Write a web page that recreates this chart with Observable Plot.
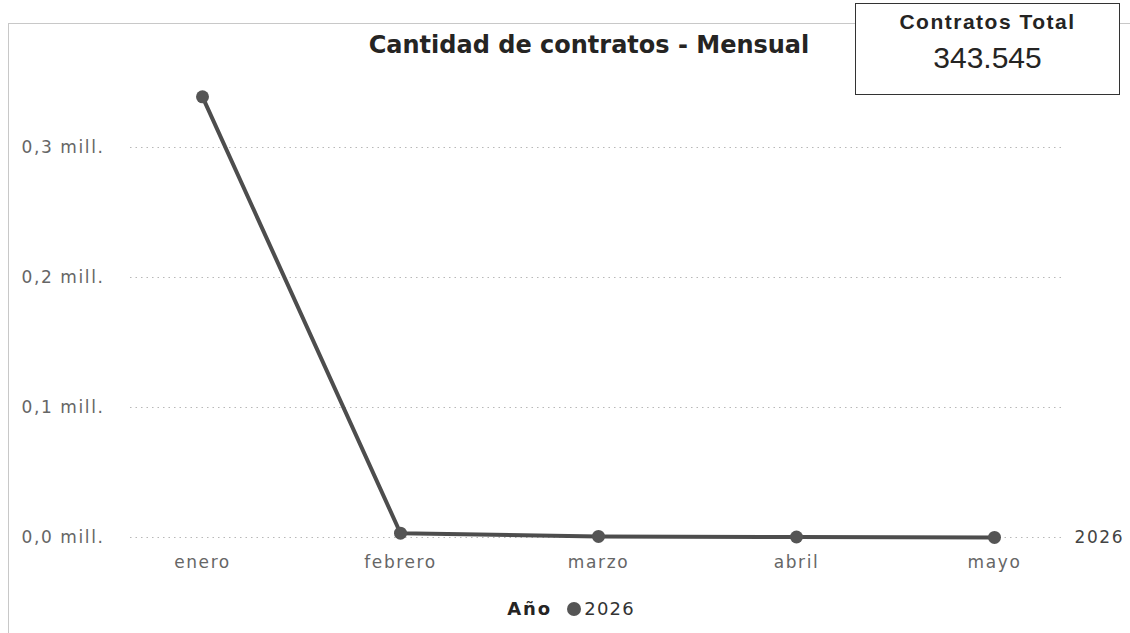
<!DOCTYPE html>
<html><head><meta charset="utf-8">
<script src="https://cdn.jsdelivr.net/npm/d3@7"></script>
<script src="https://cdn.jsdelivr.net/npm/@observablehq/plot@0.6"></script>
<style>
html,body{margin:0;padding:0;background:#fff;width:1130px;height:633px;overflow:hidden;position:relative;font-family:"DejaVu Sans",sans-serif;}
#frame{position:absolute;left:8px;top:23px;width:1140px;height:640px;border-left:1px solid #c8c8c8;border-top:1px solid #c8c8c8;}
#title{position:absolute;left:366px;width:446px;top:30px;text-align:center;font-weight:700;font-size:24px;line-height:30px;color:#252423;white-space:nowrap;}
#card{position:absolute;left:855px;top:3px;width:263px;height:90px;border:1.5px solid #333;background:#fff;text-align:center;font-family:"Liberation Sans",Arial,sans-serif;color:#252423;}
#card .h{font-weight:700;font-size:21px;letter-spacing:1.5px;line-height:24px;margin-top:6px;}
#card .v{font-size:30px;line-height:34px;margin-top:7px;}
#legend{position:absolute;top:598px;left:0;width:1142px;text-align:center;font-size:18px;line-height:22px;color:#333;letter-spacing:1.2px;}
#legend b{font-weight:700;margin-right:15px;color:#252423;letter-spacing:2px;}
#legend .dot{display:inline-block;width:14px;height:14px;border-radius:50%;background:#555;margin-right:3px;vertical-align:-1px;}
#chart{position:absolute;left:0;top:0;}
.c text{letter-spacing:1.6px;}
</style></head>
<body>
<div id="frame"></div>
<div id="chart"></div>
<div id="title">Cantidad de contratos - Mensual</div>
<div id="card"><div class="h">Contratos Total</div><div class="v">343.545</div></div>
<div id="legend"><b>Año</b><span class="dot"></span>2026</div>
<script>
const months = ["enero","febrero","marzo","abril","mayo"];
const contratos = [339000, 3300, 800, 400, 45];
const yTicks = [0, 100000, 200000, 300000];
const seriesName = "2026";

const data = months.map((m, i) => ({mes: m, valor: contratos[i]}));
const fmt = v => (v/1e6).toFixed(1).replace(".", ",") + " mill.";

const chart = Plot.plot({
  className: "c",
  width: 1130,
  height: 633,
  marginLeft: 130,
  marginRight: 65,
  marginTop: 17,
  marginBottom: 96,
  style: {fontFamily: "DejaVu Sans, sans-serif", background: "transparent", color: "#666"},
  x: {type: "point", domain: months, padding: 0.35, label: null},
  y: {domain: [0, 400000], label: null},
  marks: [
    Plot.gridY(yTicks, {stroke: "#b8b8b8", strokeOpacity: 1, strokeDasharray: "1.5,4", strokeWidth: 1.2}),
    Plot.axisY(yTicks, {tickSize: 0, tickFormat: fmt, textAnchor: "start", dx: -100, fontSize: 17, fill: "#666", label: null}),
    Plot.axisX({tickSize: 0, tickPadding: 18, fontSize: 17, fill: "#666", label: null}),
    Plot.line(data, {x: "mes", y: "valor", stroke: "#4d4d4d", strokeWidth: 4}),
    Plot.dot(data, {x: "mes", y: "valor", r: 6.5, fill: "#555", stroke: "none"}),
    Plot.text(data.slice(-1), {x: "mes", y: "valor", text: () => seriesName, textAnchor: "start", dx: 80, fontSize: 17, fill: "#444"})
  ]
});
document.getElementById("chart").appendChild(chart);
</script>
</body></html>
